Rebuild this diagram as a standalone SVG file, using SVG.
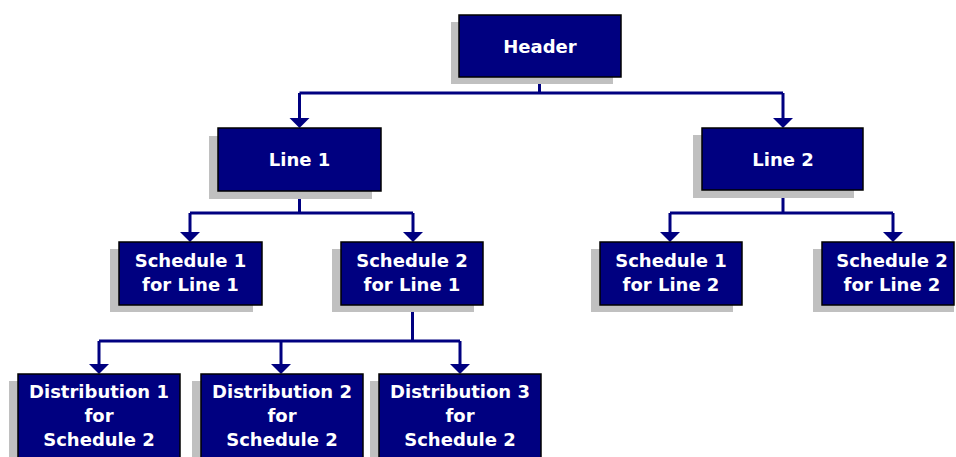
<svg xmlns="http://www.w3.org/2000/svg" width="956" height="457" viewBox="0 0 956 457">
  <style>
    .shadow { fill: #c0c0c0; }
    .box { fill: #000080; stroke: #000000; stroke-width: 1.5; }
    .label { fill: #ffffff; font-family: "DejaVu Sans", Verdana, sans-serif; font-weight: bold; font-size: 18px; text-anchor: middle; }
    .wire { fill: none; stroke: #000080; stroke-width: 3; }
    .head { fill: #000080; }
  </style>
  <rect width="956" height="457" fill="#ffffff"/>

  <g id="connectors">
    <!-- Header to Line 1 / Line 2 -->
    <path class="wire" d="M539.5,77 V93 M299.5,93 H783 M299.5,93 V119 M783,93 V119"/>
    <!-- Line 1 to its schedules -->
    <path class="wire" d="M299.5,191 V213 M190,213 H413 M190,213 V233 M413,213 V233"/>
    <!-- Line 2 to its schedules -->
    <path class="wire" d="M783,190 V213 M670,213 H893 M670,213 V233 M893,213 V233"/>
    <!-- Schedule 2 for Line 1 to distributions -->
    <path class="wire" d="M412.5,305 V341 M99,341 H460 M99,341 V365 M281,341 V365 M460,341 V365"/>
    <!-- arrowheads -->
    <path class="head" d="M289.5,118 h20 l-10,10 z"/>
    <path class="head" d="M773,118 h20 l-10,10 z"/>
    <path class="head" d="M180,232 h20 l-10,10 z"/>
    <path class="head" d="M403,232 h20 l-10,10 z"/>
    <path class="head" d="M660,232 h20 l-10,10 z"/>
    <path class="head" d="M883,232 h20 l-10,10 z"/>
    <path class="head" d="M89,364 h20 l-10,10 z"/>
    <path class="head" d="M271,364 h20 l-10,10 z"/>
    <path class="head" d="M450,364 h20 l-10,10 z"/>
  </g>

  <g id="header">
    <rect class="shadow" x="451" y="22" width="162" height="62"/>
    <rect class="box" x="459" y="15" width="162" height="62"/>
    <text class="label" x="540" y="53">Header</text>
  </g>

  <g id="line1">
    <rect class="shadow" x="209" y="136" width="163" height="63"/>
    <rect class="box" x="218" y="128" width="163" height="63"/>
    <text class="label" x="299.5" y="166">Line 1</text>
  </g>

  <g id="line2">
    <rect class="shadow" x="693" y="135" width="161" height="63"/>
    <rect class="box" x="702" y="128" width="161" height="62"/>
    <text class="label" x="783" y="166">Line 2</text>
  </g>

  <g id="schedule1-line1">
    <rect class="shadow" x="110" y="249" width="143" height="63"/>
    <rect class="box" x="119" y="242" width="143" height="63"/>
    <text class="label" x="190.5" y="267">Schedule 1</text>
    <text class="label" x="190.5" y="291">for Line 1</text>
  </g>

  <g id="schedule2-line1">
    <rect class="shadow" x="332" y="249" width="142" height="63"/>
    <rect class="box" x="341" y="242" width="142" height="63"/>
    <text class="label" x="412" y="267">Schedule 2</text>
    <text class="label" x="412" y="291">for Line 1</text>
  </g>

  <g id="schedule1-line2">
    <rect class="shadow" x="591" y="249" width="142" height="63"/>
    <rect class="box" x="600" y="242" width="142" height="63"/>
    <text class="label" x="671" y="267">Schedule 1</text>
    <text class="label" x="671" y="291">for Line 2</text>
  </g>

  <g id="schedule2-line2">
    <rect class="shadow" x="813" y="249" width="141" height="63"/>
    <rect class="box" x="822" y="242" width="132" height="63"/>
    <text class="label" x="892" y="267">Schedule 2</text>
    <text class="label" x="892" y="291">for Line 2</text>
  </g>

  <g id="distribution1">
    <rect class="shadow" x="9" y="381" width="162" height="90"/>
    <rect class="box" x="18" y="374" width="162" height="90"/>
    <text class="label" x="99" y="398">Distribution 1</text>
    <text class="label" x="99" y="422">for</text>
    <text class="label" x="99" y="446">Schedule 2</text>
  </g>

  <g id="distribution2">
    <rect class="shadow" x="192" y="381" width="162" height="90"/>
    <rect class="box" x="201" y="374" width="162" height="90"/>
    <text class="label" x="282" y="398">Distribution 2</text>
    <text class="label" x="282" y="422">for</text>
    <text class="label" x="282" y="446">Schedule 2</text>
  </g>

  <g id="distribution3">
    <rect class="shadow" x="370" y="381" width="162" height="90"/>
    <rect class="box" x="379" y="374" width="162" height="90"/>
    <text class="label" x="460" y="398">Distribution 3</text>
    <text class="label" x="460" y="422">for</text>
    <text class="label" x="460" y="446">Schedule 2</text>
  </g>
</svg>
